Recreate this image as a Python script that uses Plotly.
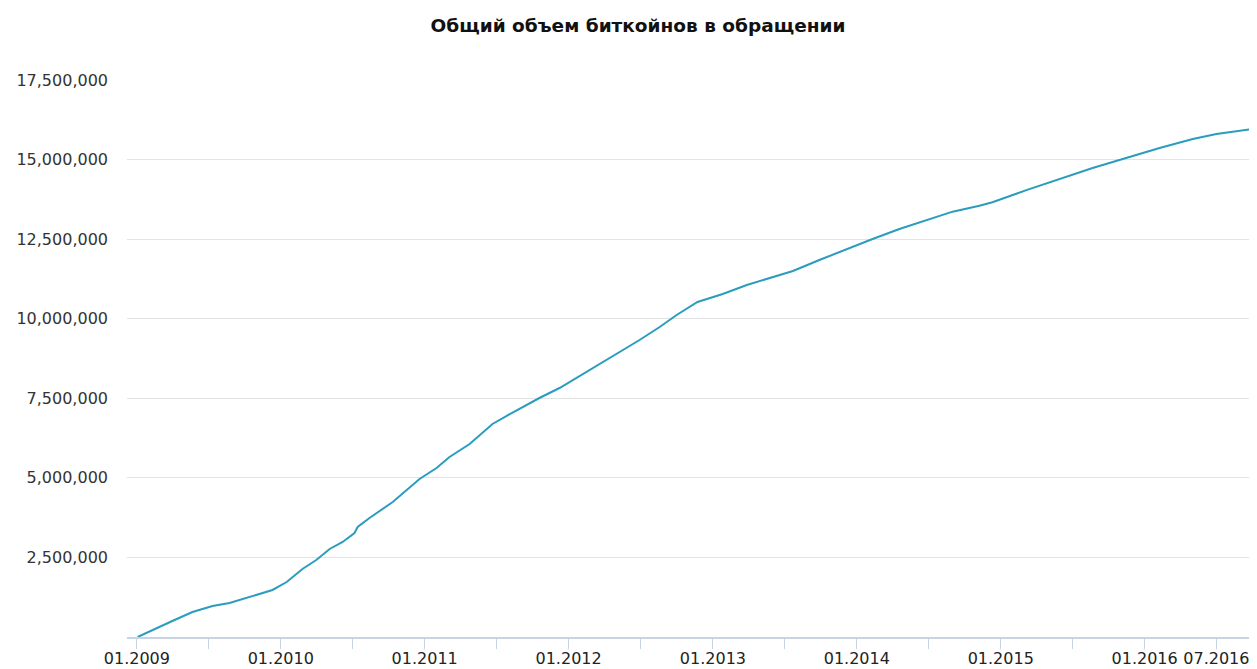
import plotly.graph_objects as go

title_text = "Общий объем биткойнов в обращении"

dates = ["2009-01-03","2009-02-20","2009-04-01","2009-05-22","2009-07-12","2009-08-24","2009-09-26","2009-11-08","2009-12-11",
         "2010-01-16","2010-02-25","2010-04-01","2010-05-05","2010-06-07","2010-07-07","2010-07-15","2010-08-14","2010-10-12","2010-11-16","2010-12-19",
         "2011-01-31","2011-03-05","2011-04-25","2011-05-20","2011-06-22","2011-07-27","2011-09-06","2011-10-19","2011-12-09",
         "2012-01-29","2012-03-19","2012-05-09","2012-06-29","2012-08-19","2012-10-01","2012-11-23",
         "2013-01-26","2013-03-28","2013-05-26","2013-07-23","2013-09-28","2013-12-06",
         "2014-02-10","2014-04-19","2014-06-26","2014-09-01","2014-11-08","2014-12-11",
         "2015-03-07","2015-05-31","2015-08-22","2015-11-15",
         "2016-02-08","2016-05-02","2016-07-01","2016-10-01"]

btc_supply = [0, 283000, 503000, 785000, 974000, 1068000, 1194000, 1351000, 1477000,
              1728000, 2136000, 2419000, 2765000, 2985000, 3267000, 3456000, 3739000, 4241000, 4618000, 4964000,
              5310000, 5655000, 6064000, 6346000, 6692000, 6943000, 7226000, 7509000, 7823000,
              8200000, 8577000, 8954000, 9331000, 9740000, 10117000, 10525000,
              10776000, 11059000, 11279000, 11499000, 11845000, 12190000,
              12504000, 12819000, 13101000, 13363000, 13550000, 13660000,
              14040000, 14400000, 14735000, 15049000,
              15363000, 15646000, 15803000, 15960000]

x_tick_vals = ["2009-01-01","2009-07-01","2010-01-01","2010-07-01","2011-01-01","2011-07-01",
               "2012-01-01","2012-07-01","2013-01-01","2013-07-01","2014-01-01","2014-07-01",
               "2015-01-01","2015-07-01","2016-01-01","2016-07-01"]
x_tick_text = ["01.2009","","01.2010","","01.2011","","01.2012","","01.2013","",
               "01.2014","","01.2015","","01.2016","07.2016"]

y_tick_vals = [2500000, 5000000, 7500000, 10000000, 12500000, 15000000, 17500000]
y_tick_text = ["2,500,000","5,000,000","7,500,000","10,000,000","12,500,000","15,000,000","17,500,000"]

# page body has an 8px default margin; size the figure so it fills the window
W, H = 1249, 661

fig = go.Figure()
fig.add_trace(go.Scatter(x=dates, y=btc_supply, mode="lines",
                         line=dict(color="#2a9dbf", width=2), hoverinfo="x+y"))

fig.update_layout(
    width=W, height=H,
    margin=dict(l=119, r=0, t=72, b=32),
    paper_bgcolor="white", plot_bgcolor="white",
    showlegend=False,
    font=dict(family="DejaVu Sans", size=16, color="#333333"),
    title=dict(text="<b>" + title_text + "</b>", x=630 / W, xanchor="center", xref="container",
               y=1 - 18 / H, yanchor="middle", yref="container",
               font=dict(family="DejaVu Sans", size=18.5, color="#111111")),
    xaxis=dict(
        type="date",
        range=["2008-12-07", "2016-10-12"],
        tickvals=x_tick_vals, ticktext=x_tick_text,
        ticks="outside", ticklen=10, tickcolor="#c8d4e3", tickwidth=1,
        ticklabelstandoff=-4,
        showline=True, linecolor="#c8d4e3", linewidth=2,
        showgrid=False, zeroline=False, automargin=False,
        tickfont=dict(family="DejaVu Sans", size=16, color="#222222"),
    ),
    yaxis=dict(
        range=[0, 17500000],
        tickvals=y_tick_vals, ticktext=y_tick_text,
        showgrid=True, gridcolor="#e3e3e3", gridwidth=1,
        zeroline=False, showline=False, automargin=False,
        ticks="", ticklabelstandoff=18,
        tickfont=dict(family="DejaVu Sans", size=16, color="#333333"),
    ),
)

fig.write_html("out.html")
